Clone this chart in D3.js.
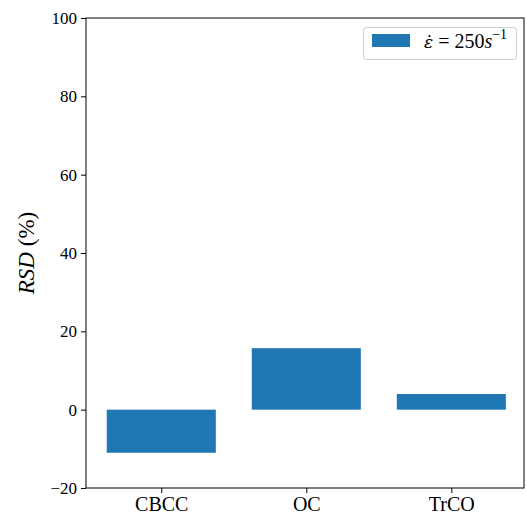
<!DOCTYPE html>
<html><head><meta charset="utf-8">
<script src="https://cdn.jsdelivr.net/npm/d3@7"></script>
<style>body{margin:0;background:#fff}svg{display:block}text{font-family:"Liberation Serif","DejaVu Serif",serif}</style>
</head><body><svg id="c" width="527" height="514"></svg>
<script>
const categories = ["CBCC","OC","TrCO"];
const values = [-11, 15.7, 4.0];
const yTicks = [-20,0,20,40,60,80,100];
const legendLabel = "250";

const svg = d3.select("#c");
const L=86, R=524, T=18, B=488;
const x = d3.scaleLinear().domain([-0.519,2.501]).range([L,R]);
const y = d3.scaleLinear().domain([-20,100]).range([B,T]);
const bw = 0.752;
const color = "#1f77b4";

svg.append("g").selectAll("rect").data(values).join("rect")
  .attr("x",(d,i)=>x(i-bw/2)).attr("width",x(bw)-x(0))
  .attr("y",d=>y(Math.max(0,d))).attr("height",d=>Math.abs(y(d)-y(0)))
  .attr("fill",color);

const ya = svg.append("g").attr("transform",`translate(${L},0)`)
  .call(d3.axisLeft(y).tickValues(yTicks).tickSize(5).tickPadding(4).tickFormat(d=>d<0?"\u2212"+(-d):d));
const xa = svg.append("g").attr("transform",`translate(0,${B})`)
  .call(d3.axisBottom(x).tickValues(categories.map((c,i)=>i)).tickSize(5).tickPadding(4).tickFormat(i=>categories[i]));
[ya,xa].forEach(a=>{a.select(".domain").remove();a.selectAll("line").attr("stroke","#000").attr("stroke-width",1);
  a.selectAll("text").attr("font-size",20).attr("fill","#000");});
ya.selectAll("text").attr("font-size",17);
svg.append("rect").attr("x",L).attr("y",T).attr("width",R-L).attr("height",B-T)
  .attr("fill","none").attr("stroke","#000").attr("stroke-width",1);

svg.append("text").attr("transform",`translate(34,${(T+B)/2}) rotate(-90)`)
  .attr("text-anchor","middle").attr("font-size",23)
  .html('<tspan font-style="italic">RSD</tspan> (%)');

const lg = svg.append("g");
lg.append("rect").attr("x",363.5).attr("y",27.5).attr("width",153).attr("height",32).attr("rx",3)
  .attr("fill","#fff").attr("stroke","#ccc");
lg.append("rect").attr("x",372).attr("y",34).attr("width",38).attr("height",13).attr("fill",color);
const lt = lg.append("text").attr("x",424).attr("y",48).attr("font-size",20);
lt.append("tspan").attr("font-style","italic").style("font-family","DejaVu Serif").attr("font-size",17).text("\u03B5\u0307");
lt.append("tspan").text(" = "+legendLabel);
lt.append("tspan").attr("font-style","italic").text("s");
lt.append("tspan").attr("dy",-9).attr("font-size",14).text("\u22121");
</script></body></html>
